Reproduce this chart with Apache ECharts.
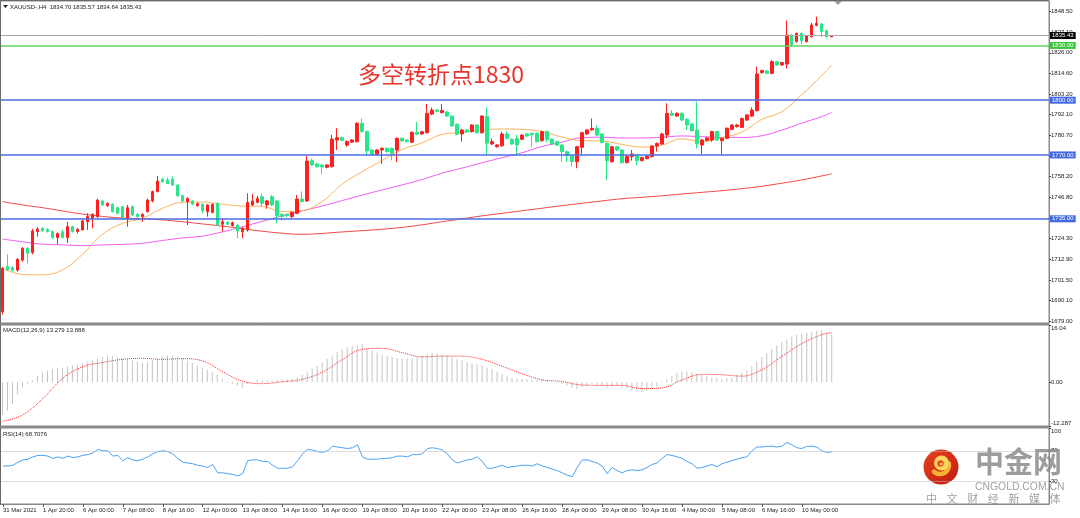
<!DOCTYPE html>
<html>
<head>
<meta charset="utf-8">
<script src="https://cdn.jsdelivr.net/npm/echarts@6.0.0/dist/echarts.min.js"></script>
<style>
html,body{margin:0;padding:0;background:#ffffff;}
#chart{width:1080px;height:518px;}
</style>
</head>
<body>
<div id="chart"></div>
<script>
// ---------- data ----------
const xLabels = ["31 Mar 2021","1 Apr 20:00","6 Apr 00:00","7 Apr 08:00","8 Apr 16:00","12 Apr 00:00","13 Apr 08:00","14 Apr 16:00","16 Apr 00:00","19 Apr 08:00","20 Apr 16:00","22 Apr 00:00","23 Apr 08:00","26 Apr 16:00","28 Apr 00:00","29 Apr 08:00","30 Apr 16:00","4 May 00:00","5 May 08:00","6 May 16:00","10 May 00:00"];
const priceTicks = [1848.50,1837.10,1826.00,1814.60,1803.20,1792.10,1780.70,1769.30,1758.20,1746.80,1735.40,1724.30,1712.90,1701.50,1690.10,1679.00];
const macdTicks = [16.04, 0, -12.287];
const rsiTicks = [100, 70, 30];

const opens = [
1684.1,1708.8,1708.2,1706.9,1712.4,1718.8,1716.6,1728.0,1729.8,1729.2,
1728.0,1724.7,1727.9,1724.7,1730.7,1728.0,1728.9,1733.4,1735.3,1736.2,
1744.8,1742.2,1742.9,1741.1,1741.7,1735.3,1741.7,1737.5,1736.2,1738.9,
1744.8,1749.9,1756.8,1756.3,1756.8,1753.5,1747.7,1744.4,1744.8,1742.2,
1743.0,1738.9,1738.5,1743.5,1732.0,1733.1,1731.3,1731.6,1728.0,1728.9,
1742.6,1744.0,1747.1,1742.6,1747.1,1744.8,1737.5,1737.5,1736.2,1738.0,
1745.8,1744.8,1766.9,1765.1,1764.5,1763.2,1763.6,1778.2,1779.5,1775.4,
1777.0,1777.3,1787.3,1782.8,1772.7,1770.4,1772.7,1773.6,1773.6,1772.7,
1779.1,1778.2,1777.0,1782.4,1781.5,1782.2,1792.4,1794.6,1793.2,1793.5,
1791.3,1786.8,1781.5,1783.7,1782.8,1786.4,1782.2,1791.0,1776.0,1774.5,
1775.0,1781.5,1778.6,1779.1,1778.6,1781.5,1781.9,1781.9,1777.8,1782.8,
1778.6,1777.3,1775.4,1771.8,1769.4,1766.3,1774.2,1781.5,1783.7,1784.6,
1781.5,1776.4,1766.3,1774.5,1772.7,1765.8,1769.1,1770.0,1766.9,1768.0,
1769.1,1774.9,1776.0,1780.9,1792.8,1791.3,1792.8,1789.5,1787.0,1783.7,
1775.4,1778.0,1778.2,1782.8,1777.8,1779.1,1784.0,1785.5,1785.1,1789.1,
1791.3,1794.3,1815.1,1816.0,1814.7,1821.1,1819.3,1819.8,1835.7,1832.1,
1836.6,1832.1,1834.8,1841.0,1841.8,1838.1,1834.70];
const highs = [
1708.5,1715.5,1709.0,1713.4,1719.5,1719.5,1729.5,1730.5,1730.3,1729.8,
1728.5,1727.5,1729.0,1733.4,1731.2,1730.0,1734.4,1738.0,1738.0,1746.0,
1745.5,1744.0,1743.5,1741.5,1742.0,1742.6,1742.2,1738.0,1738.0,1746.0,
1750.5,1758.5,1757.5,1757.5,1758.2,1754.0,1748.2,1746.8,1745.3,1744.0,
1743.5,1743.0,1743.5,1744.0,1735.2,1733.8,1733.5,1732.0,1730.4,1749.0,
1748.7,1747.5,1749.0,1745.3,1748.0,1745.3,1738.0,1738.0,1739.0,1748.0,
1750.0,1769.5,1768.0,1765.6,1765.0,1765.0,1781.0,1784.6,1780.0,1778.0,
1778.7,1788.0,1790.0,1783.3,1773.2,1773.2,1774.1,1774.1,1774.1,1779.6,
1779.6,1778.7,1782.9,1788.0,1783.2,1797.9,1796.0,1795.1,1797.9,1794.0,
1791.8,1787.3,1784.2,1784.2,1786.9,1786.9,1791.8,1796.1,1779.0,1775.9,
1782.8,1782.8,1779.1,1781.0,1781.4,1782.0,1782.4,1782.4,1783.3,1783.3,
1779.1,1777.8,1775.9,1772.3,1769.9,1775.0,1782.7,1784.2,1790.0,1786.0,
1782.0,1776.9,1775.0,1775.0,1773.2,1770.0,1772.7,1770.5,1769.0,1769.9,
1775.4,1776.8,1782.2,1798.3,1794.6,1793.3,1793.3,1790.0,1787.5,1799.2,
1778.7,1779.8,1783.3,1783.3,1779.6,1785.1,1786.9,1786.9,1790.5,1792.4,
1796.1,1818.4,1816.7,1816.5,1822.0,1821.6,1821.1,1843.6,1836.2,1837.1,
1837.1,1835.7,1842.5,1845.8,1842.3,1838.6,1835.57];
const lows = [
1682.5,1706.4,1706.0,1706.0,1711.5,1710.6,1715.5,1725.2,1728.0,1727.5,
1724.0,1721.0,1724.2,1721.7,1727.5,1727.0,1728.5,1728.9,1729.8,1735.5,
1742.0,1741.5,1738.5,1737.5,1734.5,1730.7,1736.5,1735.5,1733.4,1738.5,
1744.0,1749.5,1754.8,1754.0,1753.0,1747.0,1744.2,1731.6,1742.5,1741.6,
1738.0,1736.2,1738.0,1731.0,1728.0,1731.5,1730.8,1724.3,1724.3,1728.0,
1742.0,1743.5,1742.0,1740.5,1742.0,1732.5,1734.0,1736.0,1735.3,1737.5,
1744.0,1744.3,1764.0,1763.0,1759.4,1762.7,1763.0,1772.7,1777.5,1774.5,
1776.5,1776.8,1782.3,1769.5,1769.8,1769.9,1765.0,1771.3,1767.0,1766.0,
1777.2,1776.8,1776.5,1780.8,1781.0,1781.7,1791.9,1793.4,1792.7,1790.8,
1785.4,1780.8,1777.3,1782.1,1782.3,1781.7,1781.7,1770.0,1775.5,1774.0,
1774.5,1778.6,1775.5,1770.0,1778.1,1779.9,1774.5,1776.8,1777.3,1777.0,
1775.5,1774.9,1766.3,1766.3,1763.6,1762.7,1770.0,1781.0,1783.2,1780.4,
1776.3,1756.3,1765.8,1772.2,1765.3,1765.3,1766.9,1764.5,1766.4,1767.5,
1768.6,1771.8,1775.5,1779.1,1791.2,1790.8,1788.6,1783.7,1782.8,1773.6,
1770.5,1777.5,1777.2,1777.7,1770.3,1778.6,1783.5,1785.0,1784.6,1788.6,
1790.8,1793.8,1814.6,1814.2,1814.2,1818.8,1818.8,1817.4,1829.3,1831.6,
1830.8,1831.6,1834.3,1840.5,1834.4,1834.3,1834.64];
const closes = [
1707.9,1707.0,1706.8,1712.8,1718.8,1716.1,1728.3,1729.4,1728.5,1728.0,
1724.7,1727.0,1724.7,1730.7,1728.0,1729.2,1733.8,1736.2,1737.5,1745.3,
1742.6,1743.5,1738.9,1738.0,1735.3,1741.1,1737.1,1736.2,1737.5,1745.3,
1749.9,1755.7,1755.4,1754.4,1753.5,1747.7,1744.8,1746.2,1743.0,1743.3,
1739.3,1742.6,1742.9,1731.6,1733.4,1732.0,1732.9,1728.3,1729.8,1744.0,
1744.8,1746.2,1743.5,1744.8,1742.6,1736.7,1736.2,1736.7,1738.5,1745.8,
1744.4,1766.7,1764.5,1763.6,1763.4,1764.5,1778.7,1779.5,1778.0,1777.3,
1778.2,1787.3,1782.8,1772.2,1770.4,1772.7,1773.6,1771.8,1770.9,1779.1,
1777.7,1777.3,1782.4,1781.3,1782.7,1792.8,1794.6,1793.9,1794.3,1791.3,
1785.9,1781.3,1783.7,1782.6,1786.4,1782.2,1791.3,1776.4,1777.3,1775.4,
1781.5,1779.1,1776.0,1775.4,1780.9,1780.4,1781.0,1777.3,1782.8,1778.6,
1776.0,1775.4,1771.8,1769.6,1766.3,1774.5,1782.2,1783.7,1784.6,1780.9,
1776.8,1766.9,1774.5,1772.7,1765.8,1769.1,1770.5,1766.9,1768.5,1769.4,
1774.9,1776.3,1781.5,1792.8,1791.7,1792.8,1789.1,1786.4,1783.3,1776.0,
1778.2,1779.3,1782.8,1778.2,1779.1,1784.6,1786.4,1786.4,1790.0,1791.9,
1794.6,1814.4,1816.2,1814.7,1821.1,1819.3,1820.6,1835.7,1830.2,1836.6,
1832.6,1835.2,1841.2,1842.1,1837.6,1834.8,1835.43];

// moving averages and MACD signal, read at these bar positions
const maBars = [0,4,8,12,16,20,24,28,32,36,40,44,48,52,56,60,64,68,72,76,80,84,88,92,96,100,104,108,112,116,120,124,128,132,136,140,144,148,152,156,160,164,166];
const maFast = [1707.9,1704.5,1704.3,1707.0,1715.5,1726.5,1732.5,1735.3,1740.7,1744.0,
1744.2,1743.0,1742.0,1741.8,1739.0,1739.5,1744.4,1754.0,1760.8,1767.0,
1773.0,1776.6,1781.3,1782.3,1783.7,1784.2,1784.0,1782.8,1779.8,1777.8,
1777.6,1775.8,1774.3,1775.4,1778.8,1777.3,1779.5,1782.5,1789.5,1793.7,
1803.0,1813.5,1819.3];
const maMid = [1723.9,1722.4,1721.1,1720.7,1720.3,1720.7,1721.0,1721.6,1723.1,1724.5,
1725.5,1727.8,1730.6,1733.6,1736.6,1739.3,1742.0,1745.0,1748.0,1750.8,
1753.6,1756.5,1760.0,1762.8,1765.7,1768.5,1771.2,1774.6,1777.0,1779.5,
1779.7,1779.3,1779.3,1779.7,1780.4,1780.0,1779.6,1779.6,1780.5,1783.6,
1787.4,1791.0,1793.2];
const maSlow = [1744.4,1742.6,1741.1,1739.3,1737.6,1736.3,1735.4,1735.0,1734.4,1733.4,
1732.2,1731.0,1729.6,1728.2,1727.1,1726.5,1727.0,1727.8,1728.5,1729.3,
1730.3,1731.7,1733.4,1735.0,1736.6,1738.0,1739.4,1740.8,1742.2,1743.5,
1744.8,1746.0,1746.8,1747.6,1748.6,1749.5,1750.4,1751.5,1752.8,1754.5,
1756.3,1758.5,1759.6];
const macdSignal = [-11.0,-9.2,-4.7,1.0,4.3,5.5,6.4,6.7,6.4,6.6,
6.0,3.0,0.3,-0.4,0.1,0.8,2.8,6.3,9.2,9.5,
8.3,7.1,7.3,7.3,6.4,4.5,2.4,0.7,0.2,-0.8,
-0.9,-0.9,-1.8,-1.6,0.6,2.2,2.1,1.7,3.5,7.2,
10.8,13.3,13.888];

const macdHist = [
-9.2,-8.0,-6.1,-3.3,-1.4,-0.5,0.5,1.9,2.8,3.3,
3.6,3.9,4.1,4.4,4.7,4.9,5.3,5.6,6.1,6.6,
7.0,7.5,7.3,7.0,6.7,6.4,6.1,5.7,5.4,5.6,
6.2,6.7,7.2,7.5,7.5,7.1,6.7,6.0,5.4,4.7,
4.1,3.5,2.8,2.0,0.9,0.2,-0.5,-0.9,-1.7,-0.5,
0.2,0.7,0.5,0.5,0.4,0.6,0.7,0.8,0.9,1.3,
2.0,2.8,3.8,4.6,5.6,6.6,7.5,8.5,9.2,9.8,
10.2,10.5,10.8,9.5,8.8,8.3,7.7,7.4,7.0,6.8,
6.7,6.7,6.7,7.0,7.5,7.8,8.2,8.0,7.8,7.5,
6.9,6.5,6.1,5.6,5.1,4.9,4.6,4.1,3.6,3.0,
2.2,1.8,1.2,1.0,0.9,0.8,0.7,0.7,0.6,0.4,
0.2,-0.2,-0.5,-1.0,-1.5,-1.9,-1.3,-0.9,-0.5,-0.7,
-1.0,-1.4,-1.2,-0.9,-1.4,-1.8,-2.3,-2.6,-2.8,-2.4,
-1.8,-1.2,-0.2,0.8,1.9,2.6,3.0,3.0,2.8,2.4,
2.0,1.7,1.3,1.1,0.9,1.2,1.4,2.0,2.6,3.2,
4.5,5.8,7.0,8.1,9.3,10.3,11.2,11.9,12.8,13.3,
13.6,13.8,14.0,14.4,14.5,14.0,13.279];

const rsiValues = [
50,50,51,55,58,59,62,64,64,63,
60,62,60,63,61,62,64,65,67,72,
70,70,63,64,57,61,58,57,59,62,
66,69,70,69,66,60,55,54,53,51,
50,48,52,41,41,40,39,37,40,57,
58,58,56,56,51,47,47,47,49,57,
66,72,71,69,68,70,76,75,74,73,
74,78,62,59,59,59,60,60,61,63,
63,62,65,65,66,73,74,73,71,66,
58,54,56,58,59,62,56,47,47,49,
51,48,49,50,51,51,50,53,50,48,
46,44,41,38,36,48,58,58,56,54,
50,40,48,44,41,44,45,44,45,48,
52,54,60,65,64,62,60,56,53,47,
48,50,52,49,53,55,57,59,61,62,
70,75,75,76,76,75,76,81,78,74,
73,76,76,75,70,68,68.7076];

const levelValues = [1835.43, 1830.00, 1800.00, 1770.00, 1735.00];
const levelKinds  = ['bid', 'green', 'blue', 'blue', 'blue'];

// ---------- build ----------
const TOTAL_SLOTS = 210;
const categories = Array.from({length: TOTAL_SLOTS}, (_, i) => 'b' + i);
const candleData = opens.map((o, i) => [o, closes[i], lows[i], highs[i]]);
const pairs = arr => maBars.map((b, k) => [b, arr[k]]);
const labelEvery = (i) => i % 8 === 0 && i / 8 < xLabels.length;
const FONT = '"Liberation Sans", Arial, sans-serif';
const CJK = '"Noto Sans CJK SC", sans-serif';

const levelStyle = {
  bid:   {line: '#a8a8a8', box: '#000000', w: 1},
  green: {line: '#5fd35f', box: '#3cc43c', w: 1.5},
  blue:  {line: '#4a6ee0', box: '#4169e1', w: 1.5}
};

const gridBase = {left: -1.5, right: 31, show: true, borderColor: '#8a8a8a', borderWidth: 1, backgroundColor: 'transparent'};

function hiddenX(gi) {
  return {type: 'category', gridIndex: gi, data: categories, boundaryGap: true,
    axisLine: {show: false}, axisTick: {show: false}, axisLabel: {show: false}, splitLine: {show: false}};
}

const option = {
  animation: false,
  backgroundColor: '#ffffff',
  grid: [
    Object.assign({top: 1, height: 322}, gridBase),
    Object.assign({top: 325, height: 101}, gridBase),
    Object.assign({top: 428, height: 76}, gridBase)
  ],
  xAxis: [
    hiddenX(0),
    hiddenX(1),
    {type: 'category', gridIndex: 2, data: categories, boundaryGap: true,
      axisLine: {show: true, lineStyle: {color: '#8a8a8a'}},
      axisTick: {show: true, alignWithLabel: true, interval: labelEvery, length: 3, lineStyle: {color: '#555'}},
      axisLabel: {show: true, interval: labelEvery, formatter: (v, i) => xLabels[i / 8] || '',
        align: 'left', fontSize: 6, margin: 3, color: '#222', fontFamily: FONT},
      splitLine: {show: false}}
  ],
  yAxis: [
    {type: 'value', gridIndex: 0, position: 'right', min: 1677.90, max: 1854.36,
      splitLine: {show: false},
      axisLine: {show: true, lineStyle: {color: '#8a8a8a'}},
      axisTick: {show: true, length: 2, customValues: priceTicks, lineStyle: {color: '#444'}},
      axisLabel: {customValues: priceTicks, formatter: v => v.toFixed(2), fontSize: 6, color: '#222', margin: 2, fontFamily: FONT}},
    {type: 'value', gridIndex: 1, position: 'right', min: -12.287, max: 16.04,
      splitLine: {show: false},
      axisLine: {show: true, lineStyle: {color: '#8a8a8a'}},
      axisTick: {show: true, length: 2, customValues: macdTicks, lineStyle: {color: '#444'}},
      axisLabel: {customValues: macdTicks, margin: 2,
        formatter: v => v > 10 ? '{t|16.04}' : (v < -10 ? '{b|-12.287}' : '{m|0.00}'),
        rich: {
          t: {fontSize: 6, color: '#222', fontFamily: FONT, padding: [7, 0, 0, 0]},
          b: {fontSize: 6, color: '#222', fontFamily: FONT, padding: [0, 0, 6, 0]},
          m: {fontSize: 6, color: '#222', fontFamily: FONT}
        }}},
    {type: 'value', gridIndex: 2, position: 'right', min: 0, max: 100,
      splitLine: {show: false},
      axisLine: {show: true, lineStyle: {color: '#8a8a8a'}},
      axisTick: {show: true, length: 2, customValues: rsiTicks, lineStyle: {color: '#444'}},
      axisLabel: {customValues: rsiTicks, margin: 2,
        formatter: v => v === 100 ? '{t|100}' : '{m|' + v + '}',
        rich: {
          t: {fontSize: 6, color: '#222', fontFamily: FONT, padding: [6, 0, 0, 0]},
          m: {fontSize: 6, color: '#222', fontFamily: FONT}
        }}}
  ],
  series: [
    {name: 'MA slow', type: 'line', xAxisIndex: 0, yAxisIndex: 0, data: pairs(maSlow), smooth: 0.4,
      showSymbol: false, symbol: 'none', silent: true, lineStyle: {color: '#f24848', width: 1}, z: 2},
    {name: 'MA mid', type: 'line', xAxisIndex: 0, yAxisIndex: 0, data: pairs(maMid), smooth: 0.4,
      showSymbol: false, symbol: 'none', silent: true, lineStyle: {color: '#f45cf4', width: 1}, z: 2},
    {name: 'MA fast', type: 'line', xAxisIndex: 0, yAxisIndex: 0, data: pairs(maFast), smooth: 0.4,
      showSymbol: false, symbol: 'none', silent: true, lineStyle: {color: '#fbb55a', width: 1}, z: 2},
    {name: 'XAUUSD', type: 'candlestick', xAxisIndex: 0, yAxisIndex: 0, data: candleData, barWidth: 3,
      silent: true, z: 3,
      itemStyle: {color: '#ff1f1f', color0: '#25e889', borderColor: '#ff1f1f', borderColor0: '#25e889', borderWidth: 1}},
    {name: 'levels', type: 'line', xAxisIndex: 0, yAxisIndex: 0, data: [], clip: false, silent: true, z: 4,
      markLine: {
        silent: true, symbol: ['none', 'none'], animation: false,
        data: levelValues.map((v, k) => {
          const st = levelStyle[levelKinds[k]];
          return {yAxis: v,
            lineStyle: {color: st.line, width: st.w, type: 'solid'},
            label: {show: true, position: 'end', distance: 1, formatter: v.toFixed(2),
              color: '#ffffff', backgroundColor: st.box, padding: [1, 2, 0, 2],
              fontSize: 6, fontFamily: FONT}};
        })
      }},
    {name: 'MACD', type: 'bar', xAxisIndex: 1, yAxisIndex: 1, data: macdHist, barWidth: 1,
      silent: true, itemStyle: {color: '#c4c4c4'}},
    {name: 'Signal', type: 'line', xAxisIndex: 1, yAxisIndex: 1, data: pairs(macdSignal), smooth: 0.4,
      showSymbol: false, symbol: 'none', silent: true, z: 3,
      lineStyle: {color: '#ff2a2a', width: 1, type: 'dotted'}},
    {name: 'RSI', type: 'line', xAxisIndex: 2, yAxisIndex: 2, data: rsiValues,
      showSymbol: false, symbol: 'none', silent: true,
      lineStyle: {color: '#4aa3f5', width: 1},
      markLine: {silent: true, symbol: ['none', 'none'], label: {show: false}, animation: false,
        lineStyle: {color: '#bdbdbd', type: 'dotted', width: 1},
        data: [{yAxis: 70}, {yAxis: 30}]}}
  ],
  graphic: [
    // panel frame pieces
    {type: 'rect', shape: {x: 0, y: 0, width: 1049, height: 1}, style: {fill: '#6a6a6a'}, silent: true, z: 10},
    {type: 'rect', shape: {x: 0, y: 0, width: 1, height: 505}, style: {fill: '#6a6a6a'}, silent: true, z: 10},
    {type: 'rect', shape: {x: 0, y: 323, width: 1049, height: 2}, style: {fill: '#8a8a8a'}, silent: true, z: 10},
    {type: 'rect', shape: {x: 0, y: 426, width: 1049, height: 2}, style: {fill: '#8a8a8a'}, silent: true, z: 10},
    {type: 'polygon', shape: {points: [[834, 1], [842, 1], [838, 5]]}, style: {fill: '#9a9a9a'}, silent: true, z: 10},
    // header texts
    {type: 'polygon', shape: {points: [[3, 5], [8, 5], [5.5, 8]]}, style: {fill: '#222'}, silent: true, z: 10},
    {type: 'text', silent: true, z: 10, style: {text: 'XAUUSD-,H4  1834.70 1835.57 1834.64 1835.43', x: 10, y: 7,
      font: '6px ' + FONT, fill: '#222', textVerticalAlign: 'middle', verticalAlign: 'middle'}},
    {type: 'text', silent: true, z: 10, style: {text: 'MACD(12,26,9) 13.279 13.888', x: 3, y: 330,
      font: '6px ' + FONT, fill: '#222', textVerticalAlign: 'middle', verticalAlign: 'middle'}},
    {type: 'text', silent: true, z: 10, style: {text: 'RSI(14) 68.7076', x: 3, y: 434,
      font: '6px ' + FONT, fill: '#222', textVerticalAlign: 'middle', verticalAlign: 'middle'}},
    // annotation
    {type: 'text', silent: true, z: 10, style: {text: '多空转折点1830', x: 358, y: 74,
      font: '23px ' + CJK, fill: '#e8352c', textVerticalAlign: 'middle', verticalAlign: 'middle'}},
    // watermark logo
    {type: 'group', x: 941, y: 467, silent: true, z: 20, children: [
      {type: 'circle', shape: {cx: 0, cy: 0, r: 17.5},
        style: {fill: new echarts.graphic.LinearGradient(0, 0, 1, 1, [{offset: 0, color: '#e8421e'}, {offset: 1, color: '#c01c12'}])}},
      {type: 'arc', shape: {cx: -1, cy: -2, r: 9, startAngle: -0.2, endAngle: 2.3, clockwise: true},
        style: {stroke: '#f6b431', lineWidth: 4.5, fill: 'none', lineCap: 'round'}},
      {type: 'circle', shape: {cx: 0.5, cy: -4, r: 7.5}, style: {fill: '#fcd55e'}},
      {type: 'circle', shape: {cx: -0.5, cy: -3.5, r: 3.2}, style: {fill: '#e2521f'}},
      {type: 'circle', shape: {cx: 0.3, cy: -3, r: 1.3}, style: {fill: '#fbd160'}}
    ]},
    {type: 'text', silent: true, z: 20, style: {text: '中金网', x: 975, y: 462,
      font: 'bold 29px ' + CJK, fill: 'rgba(140,140,140,0.85)', textVerticalAlign: 'middle', verticalAlign: 'middle'}},
    {type: 'text', silent: true, z: 20, style: {text: 'CNGOLD.COM.CN', x: 975, y: 487,
      font: '10.4px ' + FONT, fill: 'rgba(150,150,150,0.9)', textVerticalAlign: 'middle', verticalAlign: 'middle'}},
    {type: 'group', silent: true, z: 20, children: ['中','文','财','经','新','媒','体'].map((ch, i) => ({
      type: 'text', style: {text: ch, x: 931.5 + i * 20.6, y: 499, font: '11px ' + CJK, fill: 'rgba(150,150,150,0.9)',
        textAlign: 'center', align: 'center', textVerticalAlign: 'middle', verticalAlign: 'middle'}}))}
  ]
};

const chart = echarts.init(document.getElementById('chart'), null, {renderer: 'canvas'});
chart.setOption(option);
</script>
</body>
</html>
